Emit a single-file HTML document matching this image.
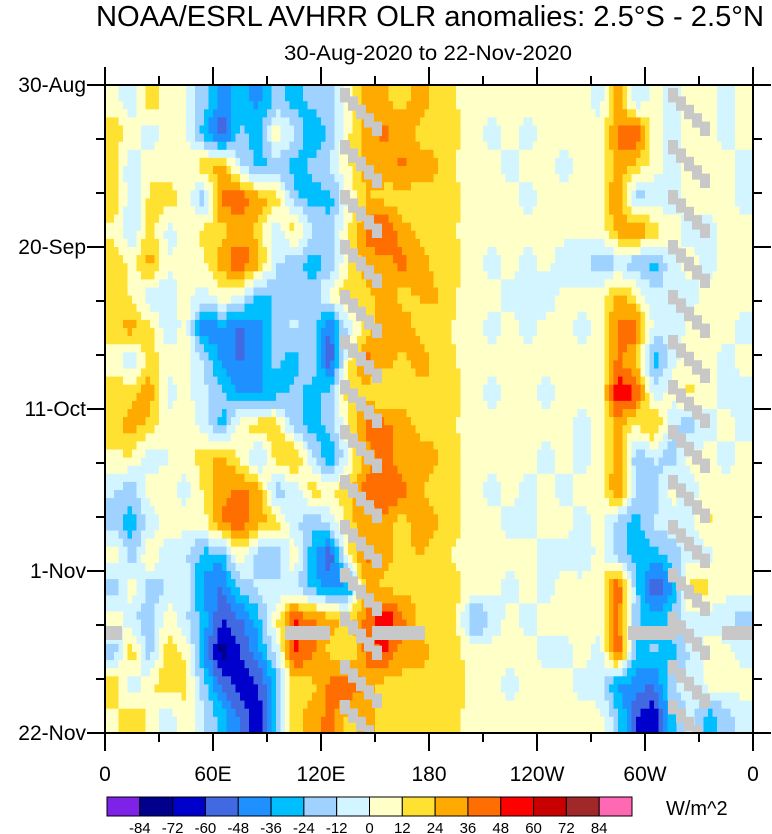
<!DOCTYPE html>
<html><head><meta charset="utf-8"><style>
html,body{margin:0;padding:0;background:#fff;}
svg{display:block;font-family:"Liberation Sans",Arial,sans-serif;}
</style></head><body>
<svg id="chart" width="772" height="834" viewBox="0 0 772 834" xmlns="http://www.w3.org/2000/svg">
<defs><clipPath id="plotclip"><rect x="105" y="85" width="648" height="648"/></clipPath></defs>
<text x="430" y="26" font-size="29" text-anchor="middle" textLength="668" lengthAdjust="spacingAndGlyphs">NOAA/ESRL AVHRR OLR anomalies: 2.5°S - 2.5°N</text>
<text x="428" y="60" font-size="21" text-anchor="middle" textLength="288" lengthAdjust="spacingAndGlyphs">30-Aug-2020 to 22-Nov-2020</text>
<g id="cells" clip-path="url(#plotclip)"></g>
<g id="missing" clip-path="url(#plotclip)"></g>
<g id="axes"></g>
<g id="cbar"></g>
<text x="666" y="815" font-size="20">W/m^2</text>
</svg>
<script>
// longitude columns: 36 bands of 10 degrees (0..360); rows: periods from 30-Aug to 22-Nov
const lonCenters = Array.from({length:36},(_, i)=>5+10*i);
const anomalyRows = [
[5,-10,20,5,0,-20,-40,-30,-40,-20,-30,-20,-15,5,30,25,20,30,20, 12,5,5,5,5,5,5,5,-5,30,-10,5,-5,5,5,-5,5],
[20,10,-10,5,0,-30,-60,-20,-30,10,-10,-40,-20,10,30,40,30,20,20, 15,5,-5,5,-5,5,5,5,5,40,50,5,-5,5,5,-5,5],
[15,-12,10,5,5,20,30,-10,-30,-20,-30,-20,-10,10,30,30,40,30,25, 10,5,5,-5,5,5,-5,5,5,30,20,5,-5,5,5,5,-5],
[20,-10,15,20,5,-20,40,45,30,20,-20,-30,-30,0,25,20,15,20,20, 15,5,5,5,-5,5,5,5,5,40,-20,-10,-5,5,5,5,-5],
[10,-15,20,-5,5,15,20,30,20,-10,20,-10,-15,10,40,50,30,20,20, 12,5,5,5,5,5,5,5,5,30,40,20,5,-5,-5,5,5],
[20,10,30,0,5,10,30,50,30,-10,-20,-30,-20,10,30,30,40,30,20, 15,5,-5,5,-5,5,-10,-10,-20,-15,-20,-30,-5,5,-5,5,5],
[20,10,-10,-5,5,-5,10,0,-30,-20,-15,-20,5,20,20,30,20,25,25, 12,5,5,-5,-5,-10,5,5,5,30,10,-10,-5,-5,5,5,5],
[20,30,15,-10,5,-50,-40,-50,-40,-20,-10,-20,-50,-10,20,30,30,20,20, 10,5,-5,5,-5,5,5,-5,5,40,45,-5,-10,5,5,5,-5],
[5,-10,20,5,5,-10,-40,-50,-40,-20,-30,-10,-60,10,40,30,20,30,20, 12,5,5,5,5,5,5,5,5,40,20,-30,-5,5,5,-5,5],
[20,20,30,-5,5,-10,-20,-40,-40,-30,-20,-30,-20,20,20,10,20,20,25, 15,5,-5,5,5,-5,5,5,5,60,50,-10,5,15,5,-5,-5],
[20,30,20,5,5,-5,-30,10,20,20,-20,-30,-20,10,40,40,30,20,20, 12,5,5,5,5,5,5,-5,5,30,10,30,-10,-20,-5,5,-5],
[10,10,-10,0,5,20,30,10,-20,20,30,-10,-40,0,30,40,30,30,25, 15,5,5,5,5,-5,5,-5,5,30,-20,-10,-20,5,5,-5,5],
[-10,-20,10,5,-5,15,30,40,30,-20,-10,20,10,20,40,50,40,25,20, 15,5,-5,5,-5,5,-5,5,5,40,-10,-20,5,-5,5,5,5],
[-20,-30,-10,10,5,5,40,45,30,20,-10,-20,-10,20,30,30,20,30,25, 15,5,5,-5,-5,5,5,-5,5,-20,-30,-10,-5,-5,15,5,5],
[10,-20,15,-10,-10,-30,-30,10,-20,-20,10,-30,-60,10,40,30,20,25,20, 10,5,5,5,5,-5,-5,-10,5,-20,-30,-30,-20,-5,-5,5,5],
[-20,10,-20,-10,-5,-40,-50,-20,-10,-10,-10,-30,-40,-40,30,20,20,20,20, 15,5,5,-5,5,-5,5,5,5,50,-20,-60,-40,20,15,5,5],
[10,-10,-20,10,-10,-30,-60,-50,-30,10,50,40,30,20,40,60,40,20,20, 15,-30,-10,5,-5,5,5,5,5,40,-20,-30,-20,-5,-5,-10,-20],
[-20,20,-20,20,10,-40,-80,-60,-40,-10,50,40,20,10,40,50,30,30,20, 15,5,5,5,5,-5,-5,5,-5,50,-30,-20,-30,-10,5,5,-5],
[20,-10,10,20,15,-20,-50,-70,-60,-30,20,20,40,50,30,20,20,20,20, 20,5,5,-5,5,5,5,-5,-10,-40,-40,-50,-10,-10,5,5,5],
[10,20,10,-10,10,-10,-30,-50,-70,-20,20,30,40,20,30,20,20,20,20, 15,5,5,5,5,5,5,5,5,-20,-60,-70,-30,-5,-30,-20,-5]
];
const levels = [-84,-72,-60,-48,-36,-24,-12,0,12,24,36,48,60,72,84];
const levelColors = ["#7d22e6","#00008c","#0000cd","#4169e1","#1e90ff","#00bfff","#a0d2ff","#d2f5ff","#ffffc8","#ffe132","#ffaa00","#ff6e00","#ff0000","#c80000","#a02828","#ff69b4"];
const dateLabels = ["30-Aug","20-Sep","11-Oct","1-Nov","22-Nov"];
const dateTickDays = [0,21,42,63,84];
const lonTickValues = [0,60,120,180,240,300,360];
const lonTickLabels = ["0","60E","120E","180","120W","60W","0"];

const NS="http://www.w3.org/2000/svg";
const X0=105,X1=753,Y0=85,Y1=733,TOTAL_DAYS=84;
const xOf = lon => X0+(lon/360)*(X1-X0);
const yOfDay = d => Y0+(d/TOTAL_DAYS)*(Y1-Y0);
const nRows = anomalyRows.length, nCols = lonCenters.length;
function colorFor(v){let i=0;while(i<levels.length&&v>=levels[i])i++;return levelColors[i];}
function mk(tag,attrs,parent){const e=document.createElementNS(NS,tag);for(const k in attrs)e.setAttribute(k,attrs[k]);parent.appendChild(e);return e;}

function sample(cf,rf){
  cf=Math.max(0,Math.min(nCols-1,cf));rf=Math.max(0,Math.min(nRows-1,rf));
  const c0=Math.floor(cf),r0=Math.floor(rf),c1=Math.min(nCols-1,c0+1),r1=Math.min(nRows-1,r0+1);
  const tx=cf-c0,ty=rf-r0;
  const a=anomalyRows[r0][c0]*(1-tx)+anomalyRows[r0][c1]*tx;
  const b=anomalyRows[r1][c0]*(1-tx)+anomalyRows[r1][c1]*tx;
  return a*(1-ty)+b*ty;
}
const cells=document.getElementById('cells');
const SUB=4;
const nx=nCols*SUB, ny=nRows*SUB;
for(let j=0;j<ny;j++){
  const rf=(j+0.5)/SUB-0.5;
  const ya=Y0+(j/ny)*(Y1-Y0), yb=Y0+((j+1)/ny)*(Y1-Y0);
  let start=0,cur=null;
  for(let i=0;i<=nx;i++){
    const col = i<nx ? colorFor(sample((i+0.5)/SUB-0.5,rf)) : null;
    if(col!==cur){
      if(cur!==null){
        const xa=X0+(start/nx)*(X1-X0), xb=X0+(i/nx)*(X1-X0);
        const r=mk('rect',{x:xa.toFixed(2),y:ya.toFixed(2),width:(xb-xa+0.6).toFixed(2),height:(yb-ya+0.6).toFixed(2),fill:cur},cells);
        
        
      }
      cur=col;start=i;
    }
  }
}

const miss=document.getElementById('missing');
const diagStarts=[88,140,190,240,290,335,380,425,475,520,568,612,660,700];
diagStarts.forEach((y)=>{
  [340,668].forEach((x)=>{
    const len = 42;
    for(let s=0;s<5;s++){
      const r=mk('rect',{x:x+s*8,y:y+s*(len/5),width:10,height:len/5+6,fill:"#c8c8c8"},miss);
      
      
    }
  });
});
[[105,122],[285,330],[372,425],[628,676],[722,753]].forEach(([a,b])=>{
  const r=mk('rect',{x:a,y:626,width:b-a,height:14,fill:"#c8c8c8"},miss);
  
  
});

const ax=document.getElementById('axes');
const frame=mk('rect',{x:X0,y:Y0,width:X1-X0,height:Y1-Y0,fill:"none",stroke:"#000","stroke-width":2},ax);


for(let lon=0;lon<=360;lon+=30){
  const x=xOf(lon),L=(lon%60===0)?18:9;
  mk('line',{x1:x,y1:Y1,x2:x,y2:Y1+L,stroke:"#000","stroke-width":2},ax);
  mk('line',{x1:x,y1:Y0,x2:x,y2:Y0-L,stroke:"#000","stroke-width":2},ax);
}
lonTickValues.forEach((v,i)=>{
  const t=mk('text',{x:xOf(v),y:781,"font-size":21,"text-anchor":"middle"},ax);
  t.textContent=lonTickLabels[i];
  
  
});
for(let d=0;d<=TOTAL_DAYS;d+=7){
  const y=yOfDay(d),L=(d%21===0)?18:9;
  mk('line',{x1:X0,y1:y,x2:X0-L,y2:y,stroke:"#000","stroke-width":2},ax);
  mk('line',{x1:X1,y1:y,x2:X1+L,y2:y,stroke:"#000","stroke-width":2},ax);
}
dateTickDays.forEach((d,i)=>{
  const t=mk('text',{x:86,y:yOfDay(d)+7,"font-size":21,"text-anchor":"end"},ax);
  t.textContent=dateLabels[i];
  
  
});

const cb=document.getElementById('cbar');
const CB0=107,CB1=632,CBW=(CB1-CB0)/levelColors.length;
levelColors.forEach((c,i)=>{
  const r=mk('rect',{x:CB0+i*CBW,y:797,width:CBW,height:19,fill:c,stroke:"#000","stroke-width":1},cb);
  
  
});
levels.forEach((v,i)=>{
  const t=mk('text',{x:CB0+(i+1)*CBW,y:833,"font-size":15,"text-anchor":"middle"},cb);
  t.textContent=String(v);
  
  
});
</script>
</body></html>
